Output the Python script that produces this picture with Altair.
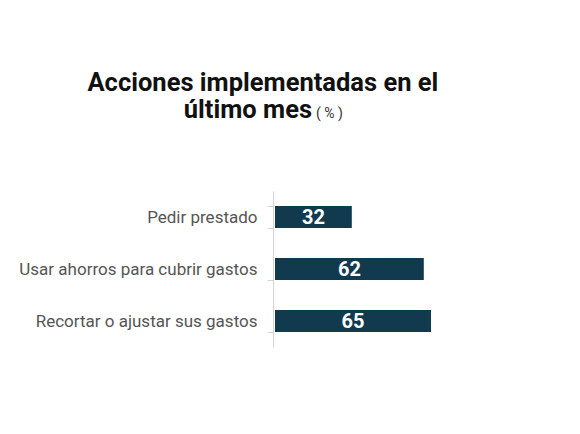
import pandas as pd
import altair as alt

categorias = ["Pedir prestado", "Usar ahorros para cubrir gastos", "Recortar o ajustar sus gastos"]
valores = [32, 62, 65]

df = pd.DataFrame({"accion": categorias, "pct": valores})

bar_color = "#113a4f"
font = "Roboto"

base = alt.Chart(df).encode(
    y=alt.Y(
        "accion:N",
        sort=categorias,
        title=None,
        scale=alt.Scale(paddingInner=0.58, paddingOuter=0.29),
        axis=alt.Axis(
            domainColor="#d4d4d4",
            tickColor="#d4d4d4",
            tickBand="extent",
            tickSize=6,
            labelPadding=10,
            labelFontSize=17,
            labelColor="#555555",
            labelFont=font,
            labelLimit=400,
            offset=2,
        ),
    )
)

bars = base.mark_bar(color=bar_color).encode(
    x=alt.X("pct:Q", scale=alt.Scale(domain=[0, 100]), axis=None),
)

labels = base.mark_text(
    color="white", fontSize=20, fontWeight="bold", font=font, align="center", baseline="middle", dy=1
).encode(
    x=alt.X("mid:Q"),
    text=alt.Text("pct:Q"),
).transform_calculate(mid="datum.pct / 2")

# second title line, with the small "(%)" right after it
title_line2 = alt.Chart(df.head(1)).mark_text(
    text="último mes", fontSize=25.5, fontWeight="bold", color="#111111", font=font,
    align="right", baseline="alphabetic"
).encode(x=alt.value(37), y=alt.value(-73))

pct_note = alt.Chart(df.head(1)).mark_text(
    text="( % )", fontSize=14, color="#333333", font=font, align="left", baseline="alphabetic"
).encode(x=alt.value(41), y=alt.value(-73))

chart = (bars + labels + title_line2 + pct_note).properties(
    width=240,
    height=156,
    title=alt.TitleParams(
        text="Acciones implementadas en el",
        font=font,
        fontSize=25.5,
        fontWeight="bold",
        color="#111111",
        anchor="middle",
        frame="bounds",
        offset=2,
        dx=-4,
    ),
    padding={"top": 62, "left": 10, "right": 5, "bottom": 5},
).configure_view(stroke=None)

chart.save("out.html", embed_options={"renderer": "svg", "actions": False})
